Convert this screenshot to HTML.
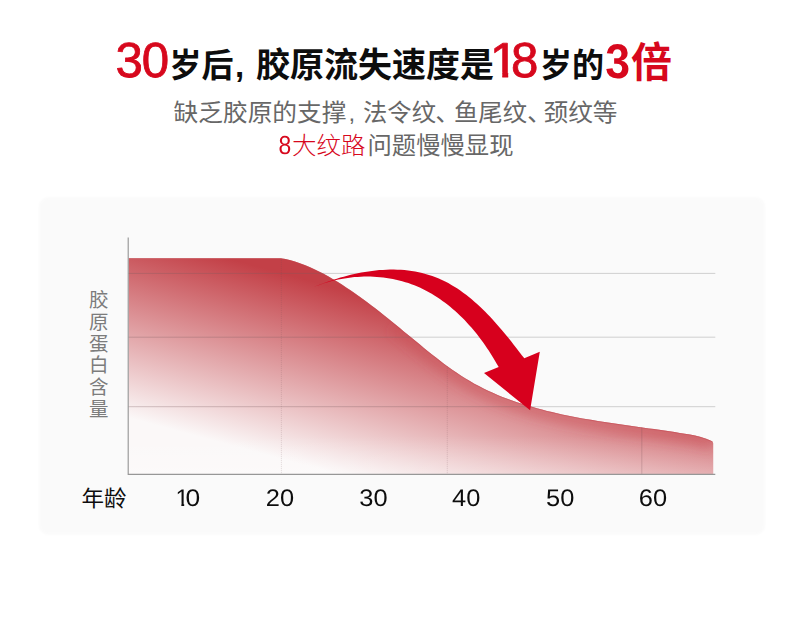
<!DOCTYPE html>
<html lang="zh-CN">
<head>
<meta charset="utf-8">
<title>30岁后, 胶原流失速度是18岁的3倍</title>
<style>
html,body{margin:0;padding:0;background:#fff;}
body{width:790px;height:619px;overflow:hidden;position:relative;font-family:"Liberation Sans",sans-serif;}
#page{position:absolute;left:0;top:0;width:790px;height:619px;background:#fff;overflow:hidden;}
#art{position:absolute;left:0;top:0;width:790px;height:619px;display:block;}
.copy{position:absolute;margin:0;color:transparent;white-space:nowrap;font-family:"Liberation Sans",sans-serif;font-weight:normal;pointer-events:none;overflow:hidden;}
.copy.h{left:117px;top:40px;width:556px;height:44px;font-size:35px;line-height:44px;}
.copy.s1{left:174px;top:98px;width:444px;height:30px;font-size:24px;line-height:30px;}
.copy.s2{left:278px;top:132px;width:236px;height:30px;font-size:24px;line-height:30px;}
.copy.yl{left:88px;top:289px;width:22px;height:131px;font-size:20px;line-height:22px;white-space:normal;word-break:break-all;}
.copy.xl{left:81px;top:485px;width:46px;height:26px;font-size:22px;line-height:26px;}
.num{font-family:"Liberation Sans",sans-serif;}
.cjk{font-family:"Liberation Sans","Noto Sans CJK SC",sans-serif;}
</style>
</head>
<body>
<div id="page">
<h1 class="copy h">30岁后, 胶原流失速度是18岁的3倍</h1>
<p class="copy s1">缺乏胶原的支撑, 法令纹、鱼尾纹、颈纹等</p>
<p class="copy s2">8大纹路问题慢慢显现</p>
<p class="copy yl">胶原蛋白含量</p>
<p class="copy xl">年龄</p>
<svg id="art" width="790" height="619" viewBox="0 0 790 619">
<defs>
<filter id="glow" x="-10%" y="-60%" width="120%" height="220%"><feGaussianBlur stdDeviation="5"/></filter>
<filter id="soft" x="-5%" y="-5%" width="110%" height="110%"><feGaussianBlur stdDeviation="1.2"/></filter>
<linearGradient id="gv" gradientUnits="userSpaceOnUse" x1="290" y1="275.3" x2="243.2" y2="448.7">
<stop offset="0" stop-color="#c34047"/>
<stop offset="1" stop-color="#fbf8f8"/>
</linearGradient>
<clipPath id="one" clipPathUnits="userSpaceOnUse"><path d="M2.95 -37.39H17.71V1H11.97V-4.92H2.95Z"/></clipPath>
<clipPath id="one2" clipPathUnits="userSpaceOnUse"><path d="M1.44 -18.24H8.88V1H5.84V-2.40H1.44Z"/></clipPath>
<linearGradient id="gf" gradientUnits="userSpaceOnUse" x1="0" y1="436" x2="0" y2="475">
<stop offset="0" stop-color="#fff" stop-opacity="0"/>
<stop offset="1" stop-color="#fff" stop-opacity="0.26"/>
</linearGradient>
<clipPath id="ac"><path d="M128.6 474.6L128.6 258.3L280.5 258.3L285.6 259.0L290.7 260.3L295.7 261.8L300.6 263.5L305.4 265.3L310.1 267.3L314.9 269.4L319.5 271.7L324.1 274.1L328.6 276.6L333.1 279.2L337.5 281.8L341.9 284.6L346.2 287.4L350.5 290.2L354.8 293.2L359.0 296.2L363.2 299.2L367.3 302.3L371.5 305.4L375.6 308.6L379.7 311.8L383.7 315.0L387.8 318.2L391.8 321.5L395.8 324.8L399.8 328.1L403.8 331.4L407.9 334.7L411.9 338.0L415.9 341.3L419.9 344.6L423.9 347.9L427.9 351.2L432.0 354.4L436.0 357.6L440.1 360.8L444.2 363.9L448.4 366.9L452.6 369.9L456.8 372.8L461.1 375.7L465.5 378.4L469.9 381.1L474.3 383.7L478.9 386.1L483.5 388.5L488.1 390.7L492.8 392.8L497.6 394.9L502.4 396.9L507.3 398.7L512.1 400.5L517.0 402.2L522.0 403.8L527.0 405.4L531.9 406.8L536.9 408.3L541.9 409.6L547.0 410.9L552.0 412.1L557.0 413.3L562.1 414.4L567.2 415.4L572.2 416.5L577.3 417.4L582.4 418.4L587.5 419.3L592.6 420.1L597.7 421.0L602.8 421.8L607.9 422.6L613.1 423.3L618.2 424.1L623.3 424.8L628.5 425.6L633.6 426.3L638.7 427.0L643.9 427.7L649.0 428.4L654.1 429.1L659.2 429.8L664.4 430.6L669.5 431.3L674.6 432.1L679.7 432.9L684.8 433.7L689.9 434.5L695.0 435.4L700.0 436.8L706.2 438.7L710.5 440.4L712.5 441.6L713.2 443.2L713.2 474.6Z"/></clipPath>
</defs>
<!-- panel -->
<rect x="39" y="197.5" width="726" height="337" rx="9" fill="#fafafa" filter="url(#soft)"/>
<!-- grid lines behind -->
<g stroke="#cfcfcf" stroke-width="1" fill="none">
<path d="M128 273.4H715.3M128 337.2H715.3M128 406.7H715.3"/>
</g>
<!-- area -->
<path d="M128.6 474.6L128.6 258.3L280.5 258.3L285.6 259.0L290.7 260.3L295.7 261.8L300.6 263.5L305.4 265.3L310.1 267.3L314.9 269.4L319.5 271.7L324.1 274.1L328.6 276.6L333.1 279.2L337.5 281.8L341.9 284.6L346.2 287.4L350.5 290.2L354.8 293.2L359.0 296.2L363.2 299.2L367.3 302.3L371.5 305.4L375.6 308.6L379.7 311.8L383.7 315.0L387.8 318.2L391.8 321.5L395.8 324.8L399.8 328.1L403.8 331.4L407.9 334.7L411.9 338.0L415.9 341.3L419.9 344.6L423.9 347.9L427.9 351.2L432.0 354.4L436.0 357.6L440.1 360.8L444.2 363.9L448.4 366.9L452.6 369.9L456.8 372.8L461.1 375.7L465.5 378.4L469.9 381.1L474.3 383.7L478.9 386.1L483.5 388.5L488.1 390.7L492.8 392.8L497.6 394.9L502.4 396.9L507.3 398.7L512.1 400.5L517.0 402.2L522.0 403.8L527.0 405.4L531.9 406.8L536.9 408.3L541.9 409.6L547.0 410.9L552.0 412.1L557.0 413.3L562.1 414.4L567.2 415.4L572.2 416.5L577.3 417.4L582.4 418.4L587.5 419.3L592.6 420.1L597.7 421.0L602.8 421.8L607.9 422.6L613.1 423.3L618.2 424.1L623.3 424.8L628.5 425.6L633.6 426.3L638.7 427.0L643.9 427.7L649.0 428.4L654.1 429.1L659.2 429.8L664.4 430.6L669.5 431.3L674.6 432.1L679.7 432.9L684.8 433.7L689.9 434.5L695.0 435.4L700.0 436.8L706.2 438.7L710.5 440.4L712.5 441.6L713.2 443.2L713.2 474.6Z" fill="url(#gv)"/>
<path d="M128.6 474.6L128.6 258.3L280.5 258.3L285.6 259.0L290.7 260.3L295.7 261.8L300.6 263.5L305.4 265.3L310.1 267.3L314.9 269.4L319.5 271.7L324.1 274.1L328.6 276.6L333.1 279.2L337.5 281.8L341.9 284.6L346.2 287.4L350.5 290.2L354.8 293.2L359.0 296.2L363.2 299.2L367.3 302.3L371.5 305.4L375.6 308.6L379.7 311.8L383.7 315.0L387.8 318.2L391.8 321.5L395.8 324.8L399.8 328.1L403.8 331.4L407.9 334.7L411.9 338.0L415.9 341.3L419.9 344.6L423.9 347.9L427.9 351.2L432.0 354.4L436.0 357.6L440.1 360.8L444.2 363.9L448.4 366.9L452.6 369.9L456.8 372.8L461.1 375.7L465.5 378.4L469.9 381.1L474.3 383.7L478.9 386.1L483.5 388.5L488.1 390.7L492.8 392.8L497.6 394.9L502.4 396.9L507.3 398.7L512.1 400.5L517.0 402.2L522.0 403.8L527.0 405.4L531.9 406.8L536.9 408.3L541.9 409.6L547.0 410.9L552.0 412.1L557.0 413.3L562.1 414.4L567.2 415.4L572.2 416.5L577.3 417.4L582.4 418.4L587.5 419.3L592.6 420.1L597.7 421.0L602.8 421.8L607.9 422.6L613.1 423.3L618.2 424.1L623.3 424.8L628.5 425.6L633.6 426.3L638.7 427.0L643.9 427.7L649.0 428.4L654.1 429.1L659.2 429.8L664.4 430.6L669.5 431.3L674.6 432.1L679.7 432.9L684.8 433.7L689.9 434.5L695.0 435.4L700.0 436.8L706.2 438.7L710.5 440.4L712.5 441.6L713.2 443.2L713.2 474.6Z" fill="url(#gf)"/>
<g clip-path="url(#ac)">
<path d="M395.8 324.8L399.8 328.1L403.8 331.4L407.9 334.7L411.9 338.0L415.9 341.3L419.9 344.6L423.9 347.9L427.9 351.2L432.0 354.4L436.0 357.6L440.1 360.8L444.2 363.9L448.4 366.9L452.6 369.9L456.8 372.8L461.1 375.7L465.5 378.4L469.9 381.1L474.3 383.7L478.9 386.1L483.5 388.5L488.1 390.7L492.8 392.8L497.6 394.9L502.4 396.9L507.3 398.7L512.1 400.5L517.0 402.2L522.0 403.8L527.0 405.4L531.9 406.8L536.9 408.3L541.9 409.6L547.0 410.9L552.0 412.1L557.0 413.3L562.1 414.4L567.2 415.4L572.2 416.5L577.3 417.4L582.4 418.4L587.5 419.3L592.6 420.1L597.7 421.0L602.8 421.8L607.9 422.6L613.1 423.3L618.2 424.1L623.3 424.8L628.5 425.6L633.6 426.3L638.7 427.0L643.9 427.7L649.0 428.4L654.1 429.1L659.2 429.8L664.4 430.6L669.5 431.3L674.6 432.1L679.7 432.9L684.8 433.7L689.9 434.5L695.0 435.4L700.0 436.8L706.2 438.7L710.5 440.4L712.5 441.6" fill="none" stroke="#c9464f" stroke-opacity="0.3" stroke-width="20" filter="url(#glow)"/>
<path d="M128.6 258.3H280.5L280.5 258.3L285.6 259.0L290.7 260.3L295.7 261.8L300.6 263.5L305.4 265.3L310.1 267.3L314.9 269.4L319.5 271.7L324.1 274.1L328.6 276.6L333.1 279.2L337.5 281.8L341.9 284.6L346.2 287.4L350.5 290.2L354.8 293.2L359.0 296.2L363.2 299.2L367.3 302.3L371.5 305.4L375.6 308.6L379.7 311.8L383.7 315.0L387.8 318.2L391.8 321.5L395.8 324.8L399.8 328.1L403.8 331.4L407.9 334.7L411.9 338.0L415.9 341.3L419.9 344.6L423.9 347.9L427.9 351.2L432.0 354.4L436.0 357.6L440.1 360.8L444.2 363.9L448.4 366.9L452.6 369.9L456.8 372.8L461.1 375.7L465.5 378.4L469.9 381.1L474.3 383.7L478.9 386.1L483.5 388.5L488.1 390.7L492.8 392.8L497.6 394.9L502.4 396.9L507.3 398.7L512.1 400.5L517.0 402.2L522.0 403.8L527.0 405.4L531.9 406.8L536.9 408.3L541.9 409.6L547.0 410.9L552.0 412.1L557.0 413.3L562.1 414.4L567.2 415.4L572.2 416.5L577.3 417.4L582.4 418.4L587.5 419.3L592.6 420.1L597.7 421.0L602.8 421.8L607.9 422.6L613.1 423.3L618.2 424.1L623.3 424.8L628.5 425.6L633.6 426.3L638.7 427.0L643.9 427.7L649.0 428.4L654.1 429.1L659.2 429.8L664.4 430.6L669.5 431.3L674.6 432.1L679.7 432.9L684.8 433.7L689.9 434.5L695.0 435.4L700.0 436.8L706.2 438.7L710.5 440.4L712.5 441.6" fill="none" stroke="#c44750" stroke-opacity="0.5" stroke-width="1.6"/>
</g>
<!-- grid lines over area -->
<g clip-path="url(#ac)" fill="none">
<path d="M128 273.4H715.3M128 337.2H715.3M128 406.7H715.3" stroke="#7d5d60" stroke-opacity="0.32" stroke-width="1"/>
<path d="M281.4 258V475M447.3 366V475" stroke="#6b4a4e" stroke-opacity="0.16" stroke-width="1" stroke-dasharray="1.2 0.8"/>
<path d="M641.8 427V475" stroke="#6b4a4e" stroke-opacity="0.24" stroke-width="1"/>
</g>
<!-- axes -->
<path d="M128.2 237.4V474.4H715.3" fill="none" stroke="#979797" stroke-width="1.15"/>
<!-- arrow -->
<path d="M313.4 286.9L316.8 285.7L320.1 284.4L323.4 283.2L326.7 282.0L330.0 280.9L333.4 279.7L336.8 278.7L340.3 277.6L343.7 276.7L347.2 275.7L350.7 274.8L354.2 274.0L357.8 273.3L361.3 272.6L364.9 271.9L368.5 271.4L372.0 270.9L375.6 270.5L379.2 270.1L382.9 269.9L386.5 269.7L390.1 269.6L393.7 269.6L397.3 269.7L400.9 269.8L404.5 270.1L408.1 270.5L411.6 271.0L415.2 271.5L418.7 272.2L422.1 273.0L425.5 273.9L428.9 274.9L432.3 276.0L435.6 277.2L438.8 278.5L442.0 280.0L445.2 281.5L448.3 283.1L451.4 284.9L454.4 286.7L457.4 288.6L460.3 290.6L463.2 292.7L466.1 294.8L468.9 297.0L471.7 299.3L474.4 301.7L477.1 304.1L479.8 306.5L482.4 309.0L485.0 311.6L487.6 314.2L490.1 316.8L492.6 319.5L495.0 322.2L497.4 324.9L499.8 327.7L502.2 330.5L504.5 333.2L506.8 336.0L509.1 338.8L511.3 341.6L513.5 344.4L515.7 347.2L517.8 350.0L519.9 352.8L522.0 355.5L524.3 358.3L539.8 351.8L530.1 410.2L484 373.1L498.7 367.0L497.0 364.2L495.4 361.4L493.8 358.7L492.1 355.9L490.4 353.2L488.7 350.5L486.9 347.9L485.1 345.2L483.2 342.6L481.3 340.0L479.4 337.4L477.4 334.8L475.4 332.3L473.3 329.8L471.2 327.3L469.0 324.9L466.8 322.5L464.6 320.1L462.3 317.8L459.9 315.5L457.6 313.3L455.2 311.1L452.7 308.9L450.2 306.8L447.7 304.8L445.1 302.8L442.5 300.9L439.9 299.0L437.2 297.2L434.4 295.5L431.7 293.8L428.9 292.2L426.1 290.7L423.2 289.2L420.3 287.8L417.4 286.5L414.4 285.3L411.4 284.2L408.4 283.1L405.3 282.2L402.2 281.3L399.1 280.4L396.0 279.7L392.9 279.0L389.7 278.5L386.5 278.0L383.3 277.5L380.1 277.2L376.9 276.9L373.7 276.7L370.5 276.6L367.2 276.5L364.0 276.6L360.8 276.7L357.5 276.9L354.3 277.1L351.1 277.5L347.9 277.9L344.6 278.4L341.4 278.9L338.3 279.5L335.1 280.3L331.9 281.0L328.8 281.9L325.7 282.8L322.6 283.8L319.5 284.9L316.4 286.0L313.4 286.9Z" fill="#d7001d"/>
<!-- cjk text -->
<g class="cjk" font-family="Liberation Sans, Noto Sans CJK SC, sans-serif" font-weight="bold" fill="#0d0d0d">
<text x="169.5" y="76.5" font-size="33" textLength="64" lengthAdjust="spacingAndGlyphs">岁后</text>
<text x="235" y="76.5" font-size="33">,</text>
<text x="256" y="76.5" font-size="34" textLength="238" lengthAdjust="spacingAndGlyphs">胶原流失速度是</text>
<text x="540" y="76.5" font-size="33" textLength="64" lengthAdjust="spacingAndGlyphs">岁的</text>
<text x="631" y="76.5" font-size="41" fill="#d7081d">倍</text>
</g>
<g class="cjk" font-family="Liberation Sans, Noto Sans CJK SC, sans-serif" font-size="24" fill="#676767">
<text x="173.5" y="120.5" textLength="173" lengthAdjust="spacingAndGlyphs">缺乏胶原的支撑</text>
<text x="348.5" y="120.5">,</text>
<text x="363" y="120.5" textLength="73" lengthAdjust="spacingAndGlyphs">法令纹</text>
<text x="435.5" y="120.5">、</text>
<text x="454" y="120.5" textLength="73" lengthAdjust="spacingAndGlyphs">鱼尾纹</text>
<text x="527.3" y="120.5">、</text>
<text x="543.5" y="120.5" textLength="74" lengthAdjust="spacingAndGlyphs">颈纹等</text>
<text x="292" y="153.8" fill="#d7081d" font-weight="300" textLength="73.5" lengthAdjust="spacingAndGlyphs">大纹路</text>
<text x="367.5" y="153.8" textLength="146" lengthAdjust="spacingAndGlyphs">问题慢慢显现</text>
</g>
<text class="cjk" font-family="Liberation Sans, Noto Sans CJK SC, sans-serif" font-size="19.5" fill="#7c7c7c" text-anchor="middle"><tspan x="98.8" y="307">胶</tspan><tspan x="98.8" y="328.8">原</tspan><tspan x="98.8" y="350.6">蛋</tspan><tspan x="98.8" y="372.4">白</tspan><tspan x="98.8" y="394.2">含</tspan><tspan x="98.8" y="416">量</tspan></text>
<text class="cjk" font-family="Liberation Sans, Noto Sans CJK SC, sans-serif" font-size="22" fill="#0d0d0d" x="81.5" y="505.8" textLength="45" lengthAdjust="spacingAndGlyphs">年龄</text>
<!-- numerals -->
<g class="num" opacity="0.999" font-family="Liberation Sans, sans-serif" fill="#d7081d" stroke="#d7081d" stroke-width="0.8" stroke-linejoin="round" font-size="49.2" text-rendering="geometricPrecision">
<text x="115.5" y="77.4">3</text>
<text x="141.7" y="77.4">0</text>
<g transform="translate(489.7 77.4) scale(1.05 1)" clip-path="url(#one)"><text x="0" y="0">1</text></g>
<text x="510.9" y="77.4">8</text>
</g>
<g class="num" opacity="0.999" font-family="Liberation Sans, sans-serif" fill="#d7081d" text-rendering="geometricPrecision">
<text transform="translate(605.3 77.6) scale(0.915 1)" font-size="48.7" font-weight="bold">3</text>
<text transform="translate(278.6 154.4) scale(0.88 1)" font-size="26">8</text>
</g>
<g class="num" opacity="0.999" font-family="Liberation Sans, sans-serif" fill="#0d0d0d" font-size="24" text-anchor="middle" text-rendering="geometricPrecision">
<g transform="translate(175.5 506.2)" clip-path="url(#one2)"><text x="0" y="0" text-anchor="start">1</text></g>
<text transform="translate(192.9 506.2) scale(1.1 1)">0</text>
<text transform="translate(279.9 506.2) scale(1.06 1)">20</text>
<text transform="translate(373.5 506.2) scale(1.06 1)">30</text>
<text transform="translate(466.2 506.2) scale(1.06 1)">40</text>
<text transform="translate(560.2 506.2) scale(1.06 1)">50</text>
<text transform="translate(653 506.2) scale(1.06 1)">60</text>
</g>
</svg>
</div>
</body>
</html>
